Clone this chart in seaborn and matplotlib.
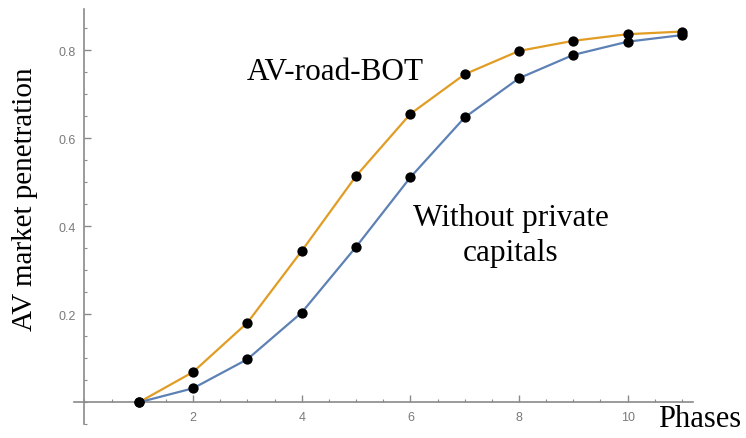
import numpy as np
import pandas as pd
import seaborn as sns
import matplotlib.pyplot as plt
from matplotlib.ticker import MultipleLocator

# values
phases = [1, 2, 3, 4, 5, 6, 7, 8, 9, 10, 11]
bot_penetration = [0.0, 0.069, 0.181, 0.344, 0.514, 0.655, 0.745, 0.798, 0.821, 0.836, 0.842]
no_private_penetration = [0.0, 0.032, 0.098, 0.204, 0.353, 0.511, 0.647, 0.736, 0.789, 0.819, 0.834]
series_names = ['AV-road-BOT', 'Without private\ncapitals']
x_tick_labels = [2, 4, 6, 8, 10]
y_tick_labels = [0.2, 0.4, 0.6, 0.8]

df = pd.DataFrame({
    'Phases': phases * 2,
    'penetration': bot_penetration + no_private_penetration,
    'scenario': [series_names[0]] * len(phases) + [series_names[1]] * len(phases),
})

sns.set_style('white')
serif = ['Liberation Serif', 'DejaVu Serif']
plt.rcParams['font.family'] = ['Liberation Sans', 'DejaVu Sans']
plt.rcParams['xtick.direction'] = 'in'
plt.rcParams['ytick.direction'] = 'in'

fig = plt.figure(figsize=(7.46, 4.39), dpi=100)
ax = fig.add_axes([0.0987, 0.031, 0.830, 0.946])

palette = {series_names[0]: '#E19C24', series_names[1]: '#5E81B5'}
sns.lineplot(data=df, x='Phases', y='penetration', hue='scenario',
             palette=palette, linewidth=1.6, legend=False, ax=ax)
sns.scatterplot(data=df, x='Phases', y='penetration', color='black',
                s=55, edgecolor='black', linewidth=0, zorder=5, ax=ax)

ax.set_xlim(-0.2, 11.2)
ax.set_ylim(-0.05, 0.893)

# axes crossing at the origin
for side in ['top', 'right']:
    ax.spines[side].set_visible(False)
ax.spines['left'].set_position(('data', 0))
ax.spines['bottom'].set_position(('data', 0))
for side in ['left', 'bottom']:
    ax.spines[side].set_color('#8a8a8a')
    ax.spines[side].set_linewidth(1.2)

ax.set_xticks(x_tick_labels)
ax.set_yticks(y_tick_labels)
ax.set_xticklabels([str(v) for v in x_tick_labels])
ax.set_yticklabels([f'{v:.1f}' for v in y_tick_labels])
ax.xaxis.set_minor_locator(MultipleLocator(0.5))
ax.yaxis.set_minor_locator(MultipleLocator(0.05))
ax.tick_params(which='major', bottom=True, left=True, direction='in', length=5, width=1,
               color='#8a8a8a', labelsize=9, labelcolor='#7a7a7a', pad=6)
ax.tick_params(which='minor', bottom=True, left=True, direction='in', length=2.5,
               width=0.8, color='#8a8a8a')
ax.set_xlabel('')
ax.set_ylabel('')

fig.text(0.033, 1 - 199 / 439, 'AV market penetration', rotation=90, ha='center', va='center',
         fontsize=21, family=serif, color='black')
fig.text(658 / 746, 1 - 420 / 439, 'Phases', ha='left', va='center', fontsize=22,
         family=serif, color='black')
fig.text(335 / 746, 1 - 73 / 439, series_names[0], ha='center', va='center',
         fontsize=22.5, family=serif, color='black')
fig.text(511 / 746, 1 - 236 / 439, series_names[1], ha='center', va='center',
         multialignment='center', fontsize=22.5, family=serif, linespacing=1.25,
         color='black')

fig.savefig('out.png', dpi=100)
